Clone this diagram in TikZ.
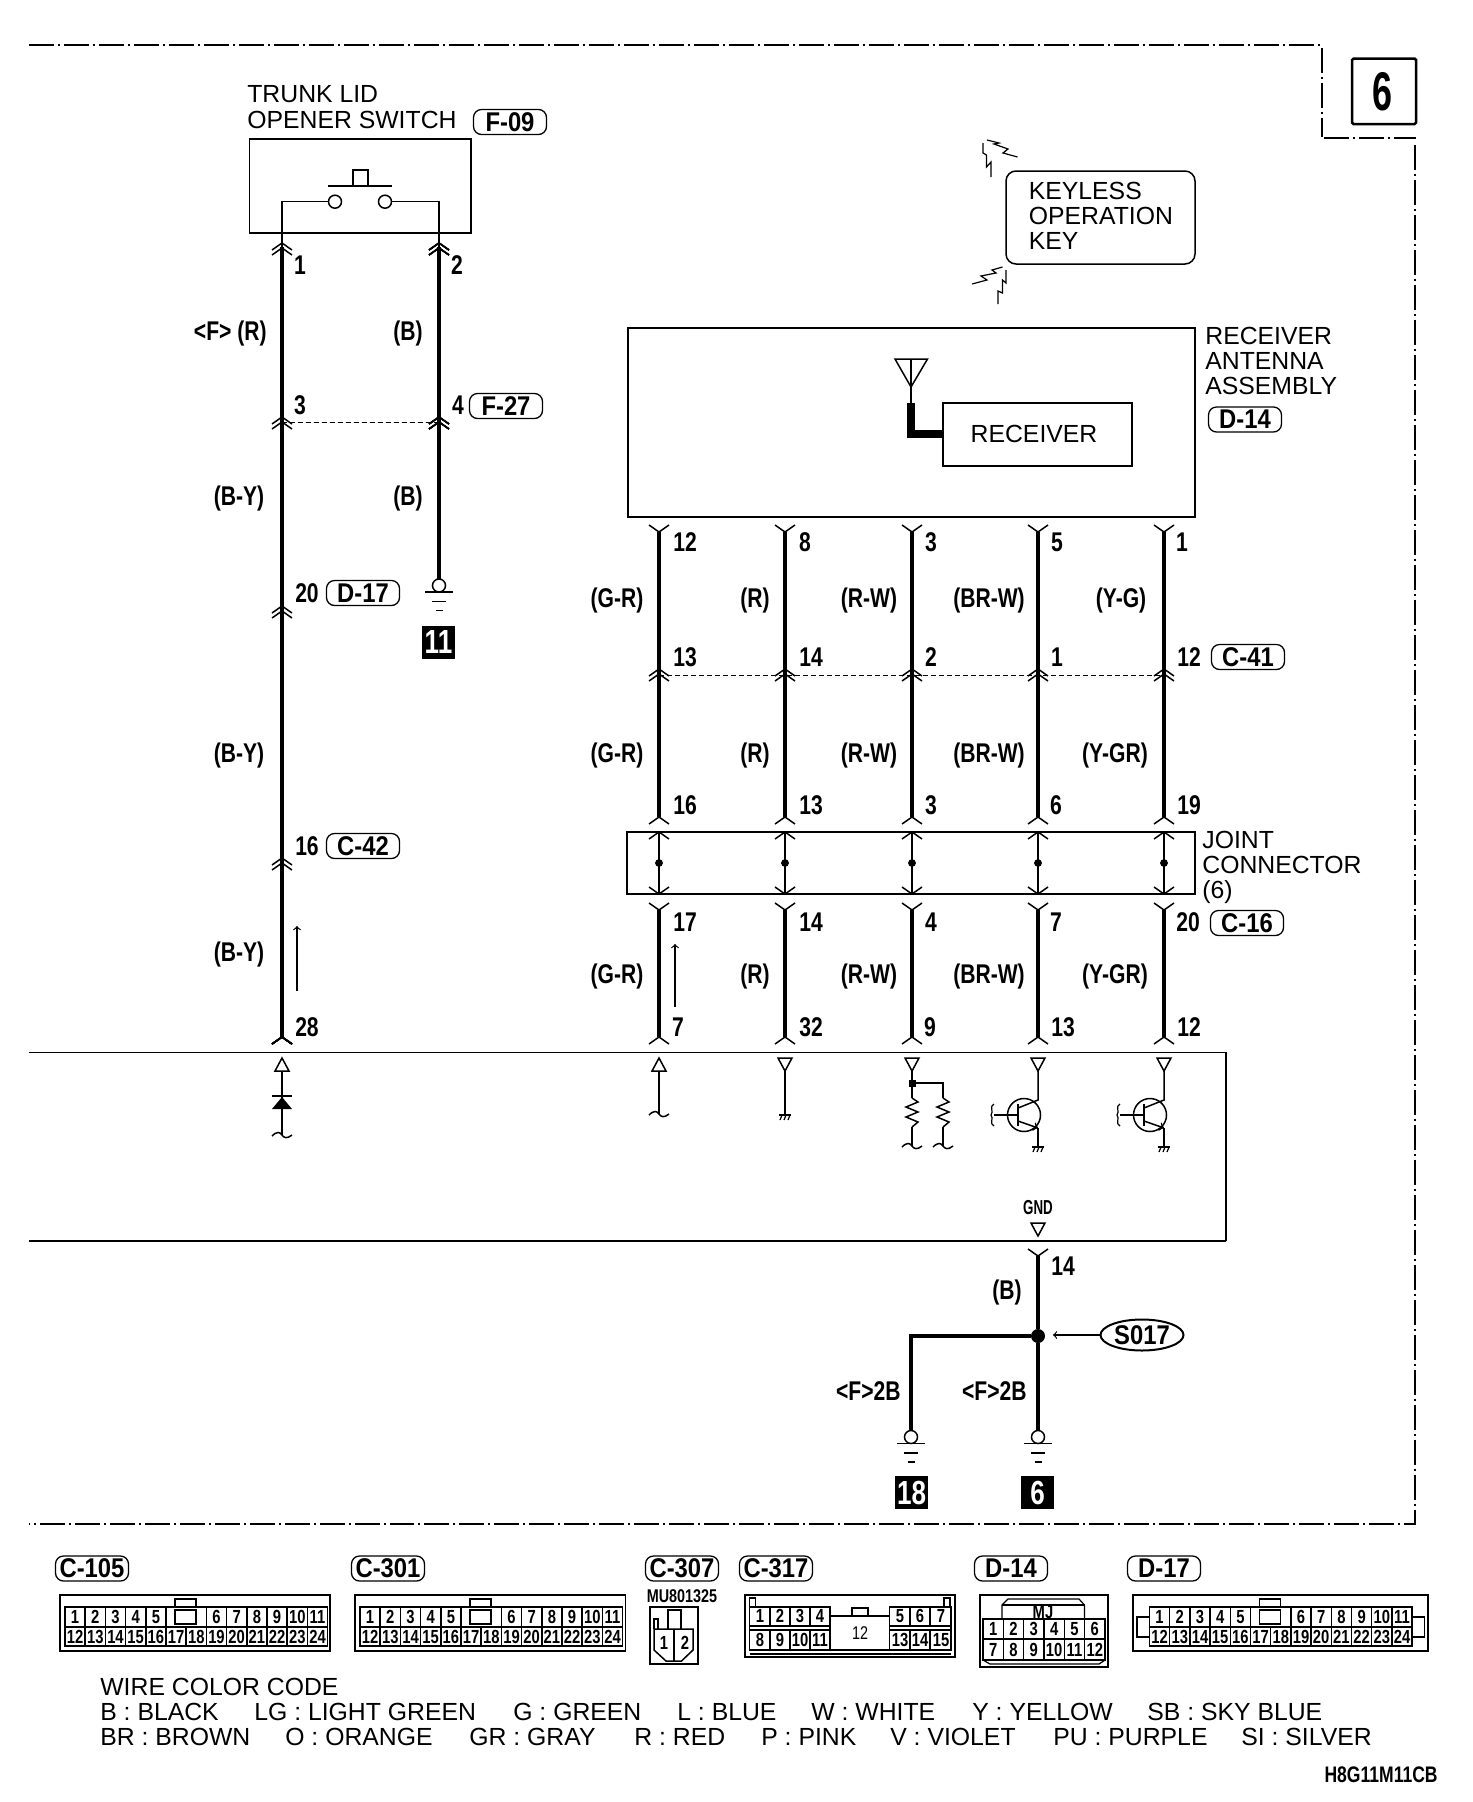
\documentclass[tikz,border=0pt]{standalone}
\usepackage{fontspec}
\setmainfont{Liberation Sans}
\newfontfamily\wirefont[FakeStretch=0.78]{Liberation Sans}
\newfontfamily\tagfont[FakeStretch=0.88]{Liberation Sans}
\newfontfamily\slimfont[FakeStretch=0.66]{Liberation Sans}
\usetikzlibrary{shapes.geometric}

\tikzset{
	wire/.style={line width=0.07cm},
	lead/.style={line width=0.03cm},
	hair/.style={line width=0.024cm},
	frame/.style={line width=0.034cm},
	border/.style={line width=0.03cm, dash pattern=on 0.5cm off 0.08cm on 0.04cm off 0.08cm},
	joinline/.style={line width=0.02cm, dash pattern=on 0.1cm off 0.06cm},
	plain/.style={font=\fontsize{14.1}{14.3}\selectfont, inner sep=0pt, align=left},
	numlab/.style={font=\wirefont\bfseries\fontsize{15.4}{16}\selectfont, inner sep=0pt},
	pinno/.style={font=\wirefont\bfseries\fontsize{10.8}{11}\selectfont, inner sep=0pt},
	tag/.style={draw, line width=0.026cm, rounded corners=0.16cm, minimum width=1.46cm, minimum height=0.5cm, inner sep=0pt,
		font=\tagfont\bfseries\fontsize{15.4}{16}\selectfont},
	grnd/.style={fill=black, text=white, minimum size=0.66cm, inner sep=0pt, font=\wirefont\bfseries\fontsize{19}{20}\selectfont},
	slim/.style={font=\slimfont\bfseries\fontsize{11.5}{12}\selectfont, inner sep=0pt}
}

% single connector mark, #3 is 7 for a peak and -7 for a fork
\def\chev(#1,#2,#3){\draw[lead] (#1-10,#2+#3) -- (#1,#2) -- (#1+10,#2+#3);}
\def\dblchev(#1,#2){\chev(#1,#2,7)\chev(#1,#2+5,7)}
\def\termup(#1,#2){\draw[lead] (#1,#2) -- (#1+7,#2+13) -- (#1-7,#2+13) -- cycle;}
\def\termdown(#1,#2){\draw[lead] (#1,#2+13) -- (#1+7,#2) -- (#1-7,#2) -- cycle;}
\def\squig(#1,#2){\draw[lead] (#1-10,#2+1) .. controls (#1-5,#2-4) and (#1-2,#2-3) .. (#1,#2) .. controls (#1+2,#2+3) and (#1+5,#2+4) .. (#1+10,#2);}
\def\hatch(#1,#2){
	\draw[lead] (#1-6,#2) -- (#1+6,#2);
	\foreach \k in {-4,0,4} \draw[hair] (#1+\k+1,#2) -- (#1+\k-1,#2+5);
}
\def\earth(#1,#2){
	\draw[lead] (#1,#2) circle (6.5);
	\draw[lead] (#1-14,#2+6.5) -- (#1+14,#2+6.5);
	\draw[frame] (#1-7,#2+16) -- (#1+7,#2+16);
	\draw[frame] (#1-3.5,#2+25) -- (#1+3.5,#2+25);
}
\def\zigzag(#1){\draw[lead] (#1,1098) -- (#1+6,1102) -- (#1-6,1107) -- (#1+6,1112) -- (#1-6,1117) -- (#1+6,1122) -- (#1,1127);}
\def\transis(#1){
	\draw[lead] (#1,1071) -- (#1,1100) -- (#1-20,1108);
	\draw[lead,->] (#1-20,1121) -- (#1,1128);
	\draw[lead] (#1,1128) -- (#1,1147);
	\draw[lead] (#1-14,1115) circle (16.5);
	\draw[lead] (#1-44,1115) -- (#1-20,1115);
	\draw[lead] (#1-20,1104) -- (#1-20,1126);
	\draw[hair] (#1-44,1104) .. controls (#1-49,1106) and (#1-44,1112) .. (#1-47,1115) .. controls (#1-44,1118) and (#1-49,1124) .. (#1-44,1126);
	\hatch(#1,1147)
}
% the 24 pin housing, #1 its name, #2 left edge of the pin block
\def\housing(#1,#2){
	\draw[frame] (#2,1607) rectangle (#2+262.6,1646);
	\draw[frame] (#2,1627) -- (#2+262.6,1627);
	\foreach \k in {1,2,3,4,5,7,8,9,10,11,12} \draw[lead] (#2+20.2*\k,1607) -- (#2+20.2*\k,1627);
	\foreach \k in {1,...,12} \draw[lead] (#2+20.2*\k,1627) -- (#2+20.2*\k,1646);
	\draw[lead] (#2+110,1607) rectangle (#2+131,1599);
	\draw[lead] (#2+110,1610) rectangle (#2+131,1624);
	\foreach \i in {1,...,5} \node[pinno] (#1\i) at (#2+20.2*\i-10.1,1617) {\i};
	\foreach \i in {6,...,11} \node[pinno] (#1\i) at (#2+20.2*\i+30.3,1617) {\i};
	\foreach \i in {12,...,24} \node[pinno] (#1\i) at (#2+20.2*\i-232.3,1637) {\i};
}

\begin{document}
\begin{tikzpicture}[x=0.02cm, y=-0.02cm]
	\useasboundingbox (0,0) rectangle (1472,1802);

	%%%%% border %%%%%
	\draw[border] (29,45) -- (1321,45);
	\draw[border] (1322,48) -- (1322,137);
	\draw[border] (1324,138) -- (1416,138);
	\draw[border] (1415,145) -- (1415,1524) -- (29,1524);
	\draw[line width=0.05cm, rounded corners=0.03cm] (1352,58.5) rectangle (1416,124);
	\node[inner sep=0pt, font=\slimfont\bfseries\fontsize{31}{32}\selectfont] (sheet) at (1382,92) {6};

	%%%%% trunk lid switch %%%%%
	\node[plain, anchor=north west] (switchname) at (247,85.5) {TRUNK LID\\OPENER SWITCH};
	\node[tag] (tagF) at (510,122) {F-09};
	\draw[frame] (249.5,139) rectangle (471,233);
	\draw[frame] (328,186) -- (392,186);
	\draw[lead] (353,186) -- (353,170) -- (368,170) -- (368,186);
	\draw[lead] (335,201.7) circle (6.5);
	\draw[lead] (385,201.7) circle (6.5);
	\draw[lead] (282,233) -- (282,201.7) -- (328.5,201.7);
	\draw[lead] (391.5,201.7) -- (439,201.7) -- (439,233);

	\coordinate (swA) at (282,247);
	\coordinate (swB) at (439,247);
	\coordinate (ecuA) at (282,1037);
	\coordinate (gndB) at (439,579);
	\draw[wire] (swA) -- (ecuA);
	\draw[wire] (swB) -- (gndB);
	\draw[lead] (282,233) -- (swA);
	\draw[lead] (439,233) -- (swB);
	\foreach \yy in {243,417,606,858} \dblchev(282,\yy)
	\foreach \yy in {243,417} \dblchev(439,\yy)
	\chev(282,1037,7)
	\draw[joinline] (282,422) -- (439,422);
	\earth(439,585.5)
	\node[grnd] (gA) at (438.5,642.5) {11};

	\node[numlab] (pinA) at (300,265) {1};
	\node[numlab] (pinB) at (457,265) {2};
	\node[numlab] (pinC) at (300,405) {3};
	\node[numlab] (pinD) at (458,405) {4};
	\node[numlab] (pinE) at (307,593) {20};
	\node[numlab] (pinF) at (307,846) {16};
	\node[numlab] (pinG) at (307,1027) {28};
	\node[tag] (tagG) at (506,406) {F-27};
	\node[tag] (tagH) at (363,593) {D-17};
	\node[tag] (tagI) at (363,846) {C-42};
	\node[numlab, anchor=east] (colA) at (267,333) {<F> (R)};
	\node[numlab] (colB) at (408,333) {(B)};
	\node[numlab] (colC) at (239,498.5) {(B-Y)};
	\node[numlab] (colD) at (408,498.5) {(B)};
	\node[numlab] (colE) at (239,755) {(B-Y)};
	\node[numlab] (colF) at (239,954.5) {(B-Y)};
	\draw[hair,->] (297,991) -- (297,926);

	%%%%% keyless key and receiver %%%%%
	\draw[lead, rounded corners=0.2cm] (1006,171) rectangle (1195,264);
	\node[plain, anchor=north west] (keyname) at (1028.5,181.5) {KEYLESS\\OPERATION\\KEY};
	\draw[hair] (991,177) -- (991,162) -- (986.5,167) -- (986.5,155) -- (983,153) -- (983,143);
	\draw[hair] (1017.5,157) -- (1003,153) -- (1008,149) -- (994,144) -- (999,143) -- (987,140);
	\draw[hair] (998,304) -- (998,291) -- (1002.5,293) -- (1002.5,280) -- (1006,283) -- (1006,270);
	\draw[hair] (972,284) -- (987,280) -- (981,276) -- (996,273) -- (992,270) -- (1002.5,267);

	\draw[frame] (628,328) rectangle (1195,517);
	\draw[lead] (943,403) rectangle (1132,466);
	\node[plain] (recv) at (1034,433.5) {RECEIVER};
	\draw[lead] (895,359) -- (927.5,359) -- (911,387) -- cycle;
	\draw[lead] (911,359) -- (911,403);
	\draw[line width=0.17cm] (911,403) -- (911,434) -- (943,434);
	\node[plain, anchor=north west] (recvname) at (1205,326.5) {RECEIVER\\ANTENNA\\ASSEMBLY};
	\node[tag] (tagJ) at (1245,419.5) {D-14};

	%%%%% the five wires %%%%%
	\foreach \id/\px in {a/659,b/785,c/912,d/1038,e/1164}{
		\coordinate (\id top) at (\px,532);
		\coordinate (\id mid) at (\px,817);
		\coordinate (\id low) at (\px,910);
		\coordinate (\id end) at (\px,1037);
		\coordinate (\id in) at (\px,832);
		\coordinate (\id out) at (\px,894);
		\draw[wire] (\id top) -- (\id mid);
		\draw[wire] (\id low) -- (\id end);
		\draw[lead] (\id in) -- (\id out);
		\chev(\px,532,-7)
		\dblchev(\px,669)
		\chev(\px,817,7)
		\chev(\px,832,7)
		\chev(\px,894,-7)
		\chev(\px,910,-7)
		\chev(\px,1037,7)
		\draw[fill=black] (\px,863) circle (3.5);
	}
	\draw[joinline] (659,675) -- (1164,675);
	\draw[frame] (627,832) rectangle (1195,894);
	\node[plain, anchor=north west] (jointname) at (1202,831) {JOINT\\CONNECTOR\\(6)};
	\foreach \px/\yy/\txt in {685/542/12,805/542/8,931/542/3,1057/542/5,1182/542/1,
		685/657/13,811/657/14,931/657/2,1057/657/1,1189/657/12,
		685/805/16,811/805/13,931/805/3,1056/805/6,1189/805/19,
		685/922/17,811/922/14,931/922/4,1056/922/7,1188/922/20,
		678/1027/7,811/1027/32,930/1027/9,1063/1027/13,1189/1027/12}
		\node[numlab] (num\yy x\txt) at (\px,\yy) {\txt};
	\foreach \yy/\lst/\lx in {600.5/(Y-G)/1121,755/(Y-GR)/1115,976.5/(Y-GR)/1115}{
		\node[numlab] at (617,\yy) {(G-R)};
		\node[numlab] at (755,\yy) {(R)};
		\node[numlab] at (869,\yy) {(R-W)};
		\node[numlab] at (989,\yy) {(BR-W)};
		\node[numlab] at (\lx,\yy) {\lst};
	}
	\node[tag] (tagK) at (1248,657) {C-41};
	\node[tag] (tagL) at (1247,923) {C-16};
	\draw[hair,->] (675,1007) -- (675,944);

	%%%%% control unit %%%%%
	\draw[lead] (29,1052.5) -- (1226,1052.5) -- (1226,1241);
	\draw[line width=0.05cm] (29,1241) -- (1226,1241);

	\termup(282,1058)
	\draw[lead] (282,1071) -- (282,1135);
	\draw[lead] (272,1096) -- (292,1096);
	\draw[fill=black, draw=none] (282,1097) -- (292,1109) -- (272,1109) -- cycle;
	\squig(282,1135)

	\termup(659,1058)
	\draw[lead] (659,1071) -- (659,1114);
	\squig(659,1114)

	\termdown(785,1058)
	\draw[lead] (785,1071) -- (785,1115);
	\hatch(785,1115)

	\termdown(912,1058)
	\draw[lead] (912,1071) -- (912,1098);
	\draw[lead] (912,1083) -- (943,1083) -- (943,1098);
	\draw[fill=black] (909,1080) rectangle (915,1086);
	\zigzag(912)
	\zigzag(943)
	\draw[lead] (912,1127) -- (912,1146);
	\draw[lead] (943,1127) -- (943,1146);
	\squig(912,1146)
	\squig(943,1146)

	\termdown(1038,1058)
	\transis(1038)
	\termdown(1164,1058)
	\transis(1164)

	\node[slim] (gndpin) at (1038,1208) {GND};
	\termdown(1038,1223)

	%%%%% ground wires %%%%%
	\coordinate (gtop) at (1038,1256);
	\coordinate (gmain) at (1038,1430);
	\coordinate (gside) at (911,1430);
	\node[circle, fill=black, minimum size=0.28cm, inner sep=0pt] (splice) at (1038,1336) {};
	\draw[wire] (gtop) -- (splice) -- (gmain);
	\draw[wire] (splice) -| (gside);
	\chev(1038,1256,-7)
	\earth(911,1437)
	\earth(1038,1437)
	\node[grnd] (gB) at (911.5,1492.5) {18};
	\node[grnd] (gC) at (1037.5,1492.5) {6};
	\node[numlab] (num14) at (1063,1266) {14};
	\node[numlab] (colH) at (1007,1292.5) {(B)};
	\node[numlab, anchor=east] (colI) at (901,1391) {<F>2B};
	\node[numlab, anchor=east] (colJ) at (1027,1391) {<F>2B};
	\node[ellipse, draw, line width=0.04cm, minimum width=1.66cm, minimum height=0.62cm, inner sep=0pt,
		font=\tagfont\bfseries\fontsize{15.4}{16}\selectfont] (sname) at (1142,1335) {S017};
	\coordinate (stip) at (1053,1335);
	\draw[hair,->] (sname) -- (stip);

	%%%%% connector views %%%%%
	\node[tag] (cvA) at (92,1568.5) {C-105};
	\node[tag] (cvB) at (388,1568.5) {C-301};
	\node[tag] (cvC) at (682,1568.5) {C-307};
	\node[tag] (cvD) at (776,1568.5) {C-317};
	\node[tag] (cvE) at (1011,1568.5) {D-14};
	\node[tag] (cvF) at (1164,1568.5) {D-17};

	\draw[lead] (60,1595) rectangle (330,1651);
	\housing(pa,65)
	\draw[lead] (355,1595) rectangle (625.6,1651);
	\housing(pb,360)

	\node[inner sep=0pt, font=\wirefont\bfseries\fontsize{10.5}{11}\selectfont] (cvCnum) at (682,1596) {MU801325};
	\draw[hair] (650,1607) rectangle (698,1664);
	\draw[lead] (654,1629) -- (693,1629) -- (693,1650) -- (681.5,1661) -- (666,1661) -- (654,1650) -- cycle;
	\draw[hair] (674,1629) -- (674,1661);
	\draw[hair] (668,1629) -- (668,1610) -- (681,1610) -- (681,1629);
	\draw[hair] (654,1629) -- (654,1619) -- (658,1619) -- (658,1629);
	\node[pinno] (cc1) at (664,1643) {1};
	\node[pinno] (cc2) at (685,1643) {2};

	\draw[frame] (745,1595) rectangle (955,1657);
	\draw[lead] (749.5,1607) rectangle (830,1650);
	\draw[lead] (889.5,1607) rectangle (951,1650);
	\draw[lead] (749.5,1626) -- (830,1626);
	\draw[lead] (749.5,1630) -- (830,1630);
	\draw[lead] (889.5,1626) -- (951,1626);
	\draw[lead] (889.5,1630) -- (951,1630);
	\draw[lead] (830,1616) -- (889.5,1616);
	\draw[lead] (749.5,1650) -- (951,1650);
	\draw[lead] (749.5,1654) -- (951,1654);
	\foreach \k in {770,790,810,910,930} {
		\draw[lead] (\k,1607) -- (\k,1626);
		\draw[lead] (\k,1630) -- (\k,1650);
	}
	\draw[hair] (852,1616) -- (852,1608) -- (868,1608) -- (868,1616);
	\draw[hair] (749.5,1607) -- (749.5,1598) -- (755.5,1598) -- (755.5,1607);
	\draw[hair] (944,1607) -- (944,1598) -- (950,1598) -- (950,1607);
	\foreach \i/\px in {1/760,2/780,3/800,4/820,5/900,6/920,7/941} \node[pinno] (cd\i) at (\px,1616) {\i};
	\foreach \i/\px in {8/760,9/780,10/800,11/820,13/900,14/920,15/941} \node[pinno] (cd\i) at (\px,1640) {\i};
	\node[pinno, font=\wirefont\fontsize{10.5}{11}\selectfont] (cd12) at (860,1633) {12};

	\draw[frame] (980,1595) rectangle (1108,1667);
	\draw[frame] (983,1619) rectangle (1105,1660);
	\draw[frame] (983,1639) -- (1105,1639);
	\foreach \k in {1,...,5} \draw[lead] (983+20.33*\k,1619) -- (983+20.33*\k,1660);
	\draw[hair] (983,1660) -- (990,1664) -- (1099,1664) -- (1105,1660);
	\draw[hair] (1002,1619) -- (1002,1605) -- (1008,1599) -- (1079,1599) -- (1084.5,1605) -- (1084.5,1619);
	\draw[hair] (1002,1605) -- (1084.5,1605);
	\node[pinno] (ceMJ) at (1043,1612) {MJ};
	\foreach \i in {1,...,6} \node[pinno] (ce\i) at (983+20.33*\i-10.2,1629) {\i};
	\foreach \i in {7,...,12} \node[pinno] (ce\i) at (983+20.33*\i-132.2,1650) {\i};

	\draw[lead] (1133,1595) rectangle (1428,1651);
	\housing(pc,1149.5)
	\draw[lead] (1149.5,1617) -- (1137,1617) -- (1137,1637) -- (1149.5,1637);
	\draw[lead] (1412,1617) -- (1424.5,1617) -- (1424.5,1637) -- (1412,1637);

	%%%%% colour key %%%%%
	\node[plain, anchor=base west] (keyhead) at (100,1695) {WIRE COLOR CODE};
	\foreach \px/\txt [count=\c] in {100/B : BLACK,254/LG : LIGHT GREEN,513/G : GREEN,677/L : BLUE,811/W : WHITE,972/Y : YELLOW,1147/SB : SKY BLUE}
		\node[plain, anchor=base west] (keyA\c) at (\px,1720) {\txt};
	\foreach \px/\txt [count=\c] in {100/BR : BROWN,285/O : ORANGE,469/GR : GRAY,634/R : RED,761/P : PINK,890/V : VIOLET,1053/PU : PURPLE,1241/SI : SILVER}
		\node[plain, anchor=base west] (keyB\c) at (\px,1745) {\txt};
	\node[inner sep=0pt, anchor=east, font=\wirefont\bfseries\fontsize{12.8}{13}\selectfont] (figno) at (1438,1775) {H8G11M11CB};
\end{tikzpicture}
\end{document}
